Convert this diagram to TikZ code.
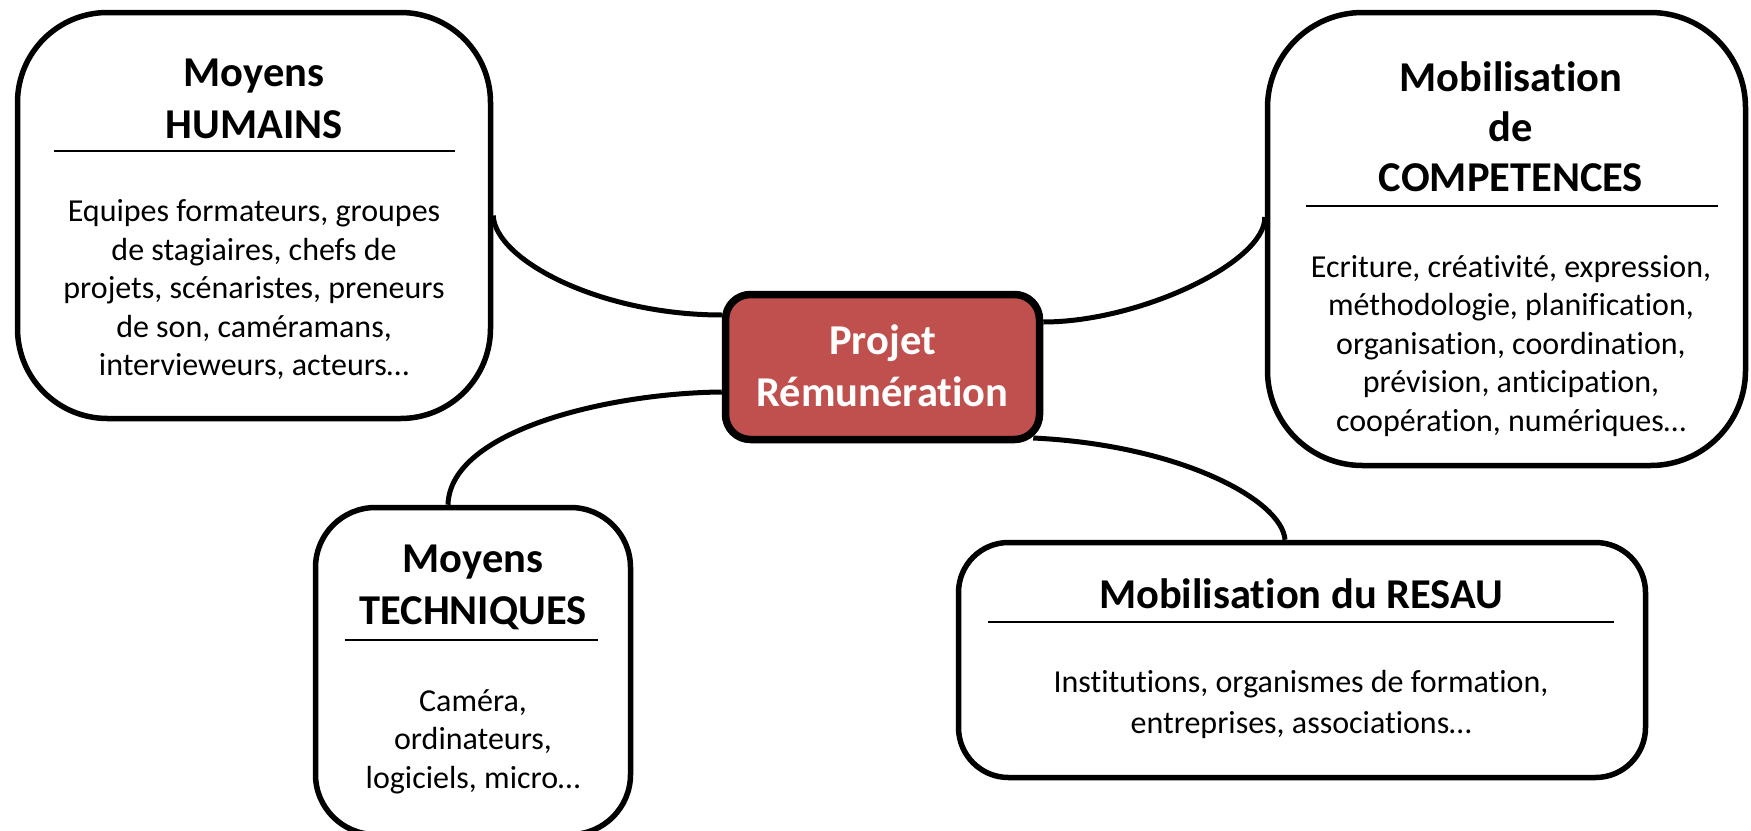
\documentclass[tikz,border=0pt]{standalone}
\usepackage{fontspec}
\setmainfont{Carlito}[Ligatures=NoCommon]
\usetikzlibrary{backgrounds}
\definecolor{projetred}{HTML}{C0504D}

\begin{document}
\begin{tikzpicture}[x=1pt, y=-1pt,
        card/.style={draw, fill=white, line width=5.5pt, inner sep=0pt, rounded corners=#1},
        cardtitle/.style={font=\bfseries\fontsize{42.5}{52}\selectfont, align=center, inner sep=0pt},
        cardtext/.style={font=\fontsize{32}{38.5}\selectfont, align=center, inner sep=0pt},
        cardrule/.style={line width=2pt},
        link/.style={line width=5pt}]
        \useasboundingbox (0, 0) rectangle (1751, 830);
        \node [card=25pt, fill=projetred, line width=7.5pt, minimum width=314pt, minimum height=145pt] (projet) at (882.5, 367) {};
        \node [cardtitle, text=white] (projetT) at (882.5, 366) {Projet\\Rémunération};
        \node [card=90pt, minimum width=473pt, minimum height=406pt] (humains) at (254, 215.5) {};
        \node [cardtitle] (humainsT) at (254, 99) {Moyens\\HUMAINS};
        \draw [cardrule] (54, 151) -- (455, 151);
        \node [cardtext] (humainsB) at (254, 290) {Equipes formateurs, groupes\\de stagiaires, chefs de\\projets, scénaristes, preneurs\\de son, caméramans,\\intervieweurs, acteurs…};
        \node [card=95pt, minimum width=478pt, minimum height=453pt] (competences) at (1506.5, 239) {};
        \node [cardtitle, font=\bfseries\fontsize{42.5}{50}\selectfont] (competencesT) at (1511, 127) {Mobilisation\\de\\COMPETENCES};
        \draw [cardrule] (1306, 206) -- (1718, 206);
        \node [cardtext] (competencesB) at (1511, 346) {Ecriture, créativité, expression,\\méthodologie, planification,\\organisation, coordination,\\prévision, anticipation,\\coopération, numériques…};
        \node [card=60pt, minimum width=315pt, minimum height=327pt] (techniques) at (473, 671) {};
        \node [cardtitle] (techniquesT) at (473, 587) {Moyens\\TECHNIQUES};
        \draw [cardrule] (345, 640) -- (598, 640);
        \node [cardtext] (techniquesB) at (473, 741.5) {Caméra,\\ordinateurs,\\logiciels, micro…};
        \node [card=50pt, minimum width=687pt, minimum height=235pt] (reseau) at (1302, 660) {};
        \node [cardtitle] (reseauT) at (1301, 594) {Mobilisation du RESAU};
        \draw [cardrule] (988, 622) -- (1614, 622);
        \node [cardtext, font=\fontsize{32}{41}\selectfont] (reseauB) at (1301, 704) {Institutions, organismes de formation,\\entreprises, associations…};
        \begin{scope}[on background layer]
        \draw [link] (humains.east) .. controls (495, 260) and (600, 315) .. ([yshift=52pt]projet.west);
        \draw [link] ([yshift=45pt]projet.east) .. controls (1140, 322) and (1266, 262) .. ([yshift=22pt]competences.west);
        \draw [link] ([yshift=-25pt]projet.west) .. controls (610, 393) and (450, 430) .. ([xshift=-25pt]techniques.north);
        \draw [link] ([xshift=-10pt, yshift=-71pt]projet.east) .. controls (1180, 445) and (1282, 500) .. ([xshift=-17pt]reseau.north);
        \end{scope}
    \end{tikzpicture}
\end{document}
